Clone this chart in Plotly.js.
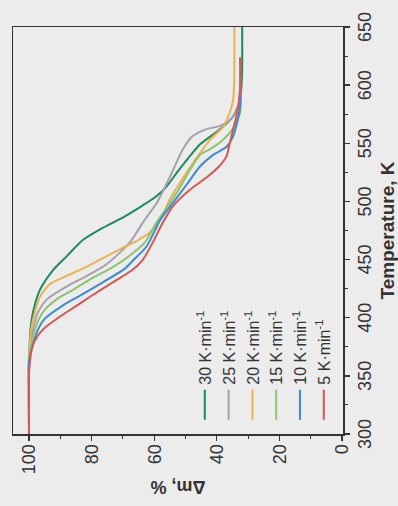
<!DOCTYPE html>
<html>
<head>
<meta charset="utf-8">
<script src="https://cdn.plot.ly/plotly-3.0.1.min.js"></script>
<style>
  html, body { margin: 0; padding: 0; background: #ececec; overflow: hidden; width: 398px; height: 506px; }
  #chart { position: absolute; left: 0; top: 0; width: 506px; height: 398px;
           transform-origin: 0 0; transform: translateY(506px) rotate(-90deg); }
</style>
</head>
<body>
<div id="chart"></div>
<script>
// Heating-rate series (K/min) and legend labels
const seriesNames = ['30 K·min<sup>-1</sup>', '25 K·min<sup>-1</sup>', '20 K·min<sup>-1</sup>',
                     '15 K·min<sup>-1</sup>', '10 K·min<sup>-1</sup>', '5 K·min<sup>-1</sup>'];
const seriesColors = ['#1b8a5e', '#a59fae', '#e9b352', '#8cc36c', '#3b8bd6', '#d9564f'];

// Temperature (K) and mass (Δm, %) for each heating rate
const temp30 = [300, 340, 367, 390, 405, 424, 441, 453, 467, 476, 487, 496, 504, 513, 525, 536, 549, 562, 573, 587, 600, 616, 650];
const mass30 = [100, 100, 99.9, 99.5, 98.7, 96.5, 92.3, 87.9, 82.7, 77.3, 69.5, 64.0, 59.5, 56.0, 52.7, 49.5, 45.4, 39.0, 34.8, 32.6, 32.1, 31.9, 31.9];

const temp25 = [300, 340, 367, 390, 405, 416, 427, 436, 446, 465, 482, 499, 521, 545, 556, 562, 565, 570, 579, 592, 613];
const mass25 = [100, 100, 100, 98.7, 97.1, 94.2, 87.9, 81.5, 75.2, 67.7, 63.6, 59.1, 55.0, 50.8, 47.8, 43.5, 39.0, 35.8, 33.5, 32.6, 32.6];

const temp20 = [300, 340, 367, 390, 405, 418, 429, 436, 444, 453, 459, 467, 473, 484, 502, 516, 533, 553, 564, 577, 587, 600, 613, 650];
const mass20 = [100, 100, 99.9, 99.3, 98.1, 96.5, 93.3, 87.9, 81.5, 75.1, 70.9, 65.0, 61.5, 58.1, 55.0, 51.8, 47.6, 42.2, 38.0, 35.8, 34.8, 34.5, 34.4, 34.4];

const temp15 = [300, 340, 364, 390, 405, 416, 424, 433, 443, 453, 465, 480, 490, 508, 527, 540, 546, 553, 563, 576, 592, 609];
const mass15 = [100, 100, 100, 98.1, 95.5, 91.1, 85.9, 80.5, 73.5, 68.0, 62.9, 59.7, 57.2, 52.7, 48.6, 45.4, 41.5, 38.0, 34.8, 32.6, 32.3, 32.3];

const temp10 = [300, 340, 362, 388, 399, 410, 419, 430, 442, 450, 461, 475, 484, 499, 515, 530, 540, 547, 556, 568, 581, 600, 613];
const mass10 = [100, 100, 100, 97.4, 95.0, 89.5, 83.7, 76.7, 69.5, 66.5, 62.5, 59.8, 58.1, 54.0, 49.5, 45.4, 41.2, 36.9, 34.8, 33.5, 32.6, 32.3, 32.3];

const temp5 = [300, 353, 377, 390, 401, 410, 418, 430, 441, 450, 465, 482, 496, 510, 521, 530, 539, 551, 562, 576, 596, 624];
const mass5 = [100, 100, 98.7, 95.5, 90.1, 85.0, 80.5, 73.5, 67.0, 63.6, 60.4, 57.2, 54.0, 48.6, 43.1, 39.3, 36.9, 35.8, 34.8, 33.5, 32.6, 32.6];

const tempTicks = [300, 350, 400, 450, 500, 550, 600, 650];
const massTicks = [0, 20, 40, 60, 80, 100];

const temps = [temp30, temp25, temp20, temp15, temp10, temp5];
const masses = [mass30, mass25, mass20, mass15, mass10, mass5];

const traces = temps.map((t, i) => ({
  x: t, y: masses[i], name: seriesNames[i], type: 'scatter', mode: 'lines',
  line: { color: seriesColors[i], width: 2, shape: 'spline', smoothing: 0.7 }
}));

const axisColor = '#333333';
const layout = {
  width: 506, height: 398,
  margin: { l: 72, r: 27, t: 13, b: 55 },
  paper_bgcolor: '#ececec', plot_bgcolor: '#ececec',
  font: { family: 'Liberation Sans, Arial, sans-serif', color: axisColor, size: 18 },
  showlegend: true,
  legend: { x: 0.023, xanchor: 'left', y: 0.47, yanchor: 'top', bgcolor: 'rgba(0,0,0,0)',
            font: { size: 16, color: axisColor }, tracegroupgap: 0 },
  xaxis: {
    range: [300, 650], tickvals: tempTicks, ticks: 'outside', ticklen: 5, tickwidth: 1.3, tickcolor: axisColor,
    showline: true, linecolor: axisColor, linewidth: 1.5, mirror: true, showgrid: false, zeroline: false,
    minor: { dtick: 25, tick0: 300, ticks: 'outside', ticklen: 3, tickwidth: 1, tickcolor: axisColor, showgrid: false },
    tickfont: { size: 18 },
    title: { text: '<b>Temperature, K</b>', font: { size: 19 } }
  },
  yaxis: {
    range: [-0.3, 105.1], tickvals: massTicks, ticks: 'outside', ticklen: 5, tickwidth: 1.3, tickcolor: axisColor,
    showline: true, linecolor: axisColor, linewidth: 1.5, mirror: true, showgrid: false, zeroline: false,
    minor: { dtick: 10, tick0: 0, ticks: 'outside', ticklen: 3, tickwidth: 1, tickcolor: axisColor, showgrid: false },
    tickfont: { size: 18 },
    title: { text: '<b>Δm, %</b>', font: { size: 18 } }
  }
};

Plotly.newPlot('chart', traces, layout, { displayModeBar: false, staticPlot: true });
</script>
</body>
</html>
